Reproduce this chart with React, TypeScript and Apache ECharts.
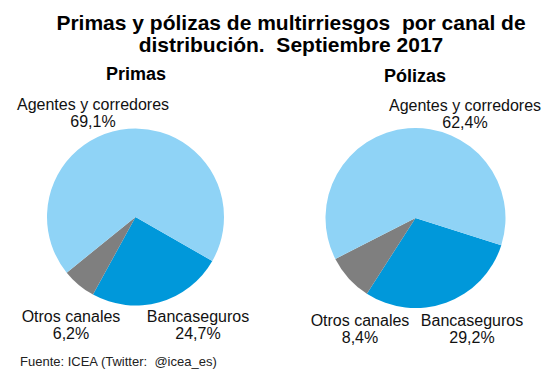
import React, { useEffect, useRef } from "react";
import * as echarts from "echarts";

const categories = ["Bancaseguros", "Otros canales", "Agentes y corredores"];
const primasValues = [24.7, 6.2, 69.1];
const polizasValues = [29.2, 8.4, 62.4];
const chartTitle = "Primas y pólizas de multirriesgos  por canal de\ndistribución.  Septiembre 2017";
const subTitles = ["Primas", "Pólizas"];
const sourceText = "Fuente: ICEA (Twitter:  @icea_es)";

const colors = ["#0098DA", "#7F7F7F", "#8FD3F6"];
const FONT = "'Liberation Sans', Arial, sans-serif";

// label centre positions per series / data index (layout only)
const labelPositions = [
  [
    [198, 325],
    [71, 325],
    [93, 113],
  ],
  [
    [472, 329],
    [360, 329],
    [465, 114],
  ],
];

const fmt = (v: number) => v.toFixed(1).replace(".", ",");

export default function App() {
  const ref = useRef<HTMLDivElement>(null);
  useEffect(() => {
    if (!ref.current) return;
    const chart = echarts.init(ref.current, undefined, { renderer: "svg" });
    const makeSeries = (idx: number, values: number[], center: [number, number], r: number, startAngle: number) => ({
      type: "pie",
      center,
      radius: r,
      startAngle,
      clockwise: true,
      silent: true,
      avoidLabelOverlap: false,
      data: categories.map((c, i) => ({
        name: c,
        value: values[i],
        itemStyle: { color: colors[i] },
      })),
      label: {
        show: true,
        position: "outside",
        overflow: "none",
        alignTo: "none",
        fontFamily: FONT,
        fontSize: 16,
        color: "#111",
        lineHeight: 17,
        align: "center",
        formatter: (p: any) => `${p.name}\n${fmt(p.value)}%`,
      },
      labelLine: { show: false },
      labelLayout: (p: any) => {
        const pos = labelPositions[idx][p.dataIndex];
        return { x: pos[0], y: pos[1], align: "center", verticalAlign: "middle", hideOverlap: false };
      },
    });
    chart.setOption({
      animation: false,
      backgroundColor: "#ffffff",
      title: [
        {
          text: chartTitle,
          left: 286,
          top: 6,
          textAlign: "center",
          textStyle: { fontFamily: FONT, fontSize: 21, fontWeight: "bold", color: "#000", lineHeight: 22 },
        },
        {
          text: subTitles[0],
          left: 131,
          top: 60,
          textAlign: "center",
          textStyle: { fontFamily: FONT, fontSize: 18, fontWeight: "bold", color: "#000" },
        },
        {
          text: subTitles[1],
          left: 410,
          top: 62,
          textAlign: "center",
          textStyle: { fontFamily: FONT, fontSize: 18, fontWeight: "bold", color: "#000" },
        },
        {
          text: sourceText,
          left: 15,
          top: 350,
          textStyle: { fontFamily: FONT, fontSize: 13, fontWeight: "normal", color: "#222" },
        },
      ],
      series: [
        makeSeries(0, primasValues, [135.5, 217], 88.5, 330.2),
        makeSeries(1, polizasValues, [415.5, 218], 90, 342.4),
      ],
    });
    return () => chart.dispose();
  }, []);
  return <div ref={ref} style={{ width: 555, height: 381, margin: -8 }} />;
}
